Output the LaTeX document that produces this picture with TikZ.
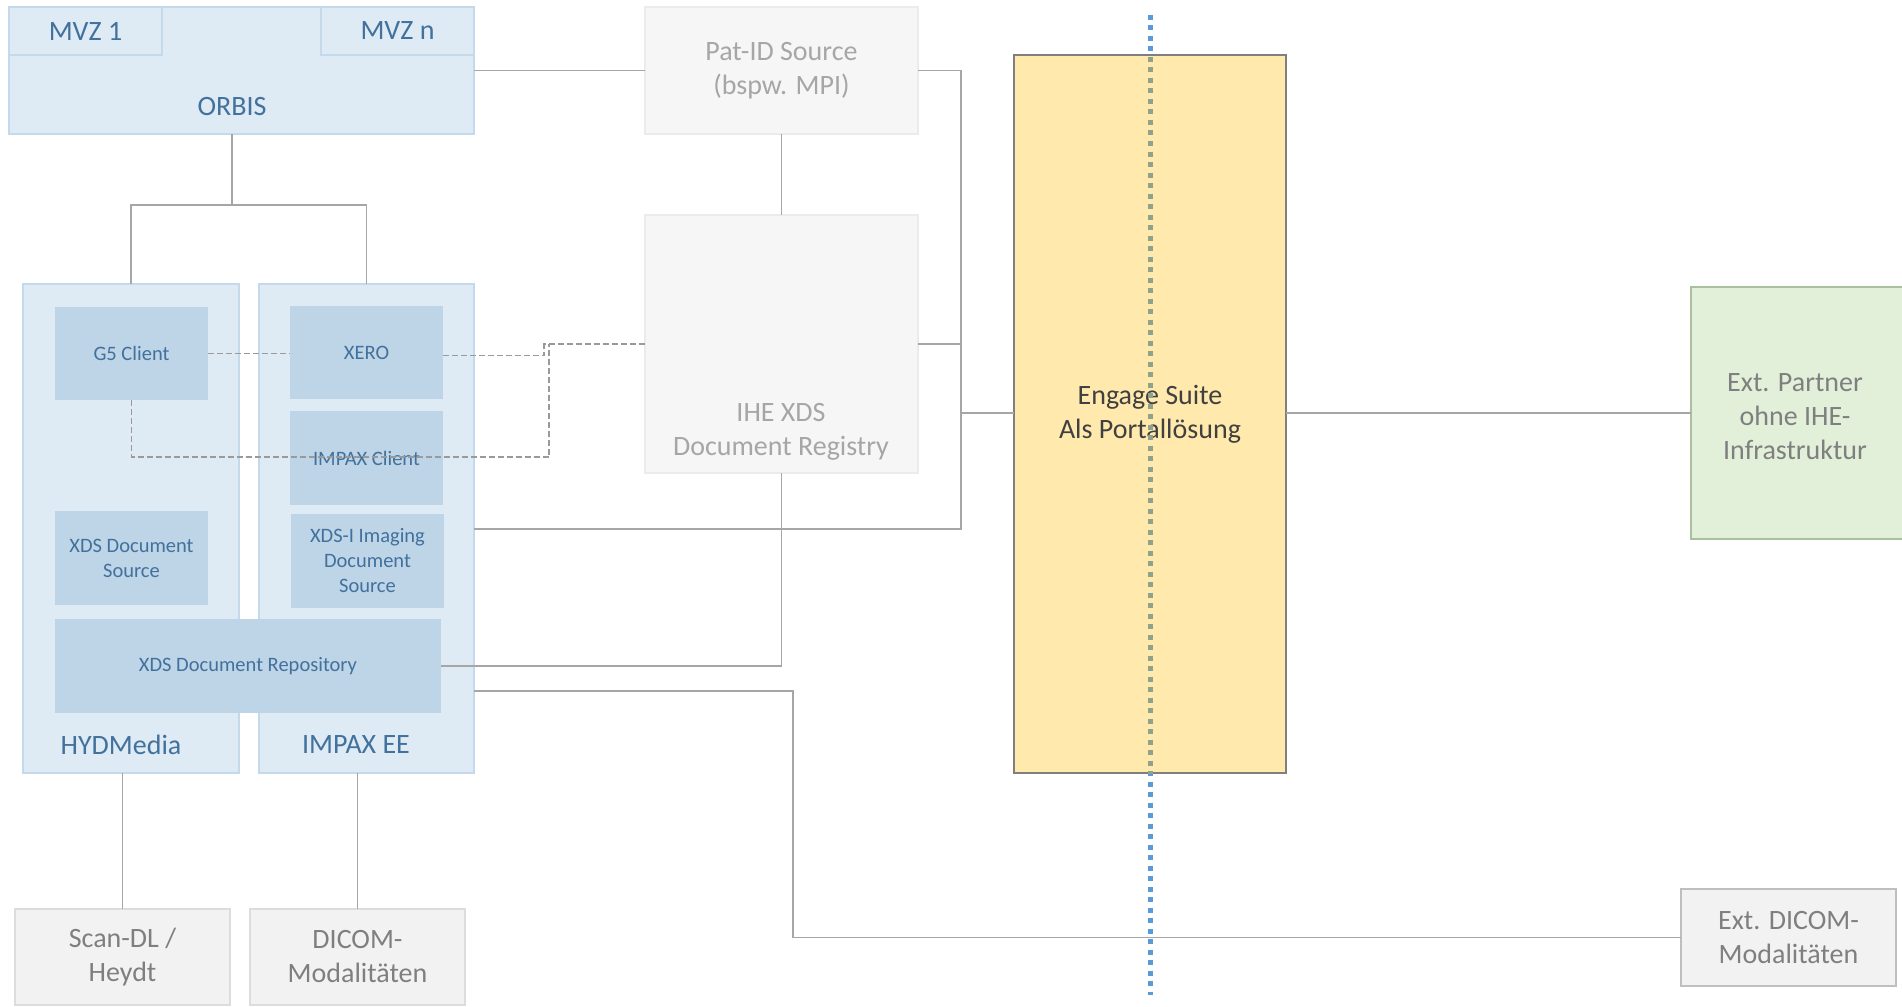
\documentclass[tikz,border=0pt]{standalone}
\usepackage{fontspec}
\setmainfont{Carlito}
\definecolor{cfill}{HTML}{DEEAF4}
\definecolor{cdraw}{HTML}{C5D9ED}
\definecolor{ifill}{HTML}{BED4E7}
\definecolor{btext}{HTML}{41719C}
\definecolor{gfill}{HTML}{F6F6F6}
\definecolor{gdraw}{HTML}{EBEBEB}
\definecolor{gtext}{HTML}{A6A6A6}
\definecolor{gbfill}{HTML}{F2F2F2}
\definecolor{gbdraw}{HTML}{DCDCDC}
\definecolor{gbtext}{HTML}{7F7F7F}
\definecolor{edraw}{HTML}{BFBFBF}
\definecolor{yfill}{HTML}{FFE9AD}
\definecolor{ydraw}{HTML}{7F7F7F}
\definecolor{ytext}{HTML}{404040}
\definecolor{grfill}{HTML}{E2EFD9}
\definecolor{grdraw}{HTML}{A9BFA0}
\definecolor{lgray}{HTML}{A6A6A6}
\definecolor{dgray}{HTML}{9A9A9A}
\definecolor{dotblue}{HTML}{5B9BD5}
\definecolor{dotmix}{HTML}{8FA38C}
\begin{document}
\begin{tikzpicture}[x=1pt,y=-1pt,
  anybox/.style={rectangle, anchor=north west, inner sep=0pt, outer sep=0pt, align=center},
  bigtxt/.style={font=\fontsize{28}{34}\selectfont},
  smalltxt/.style={font=\fontsize{20.5}{25}\selectfont},
  container/.style={anybox, fill=cfill, draw=cdraw, line width=1.5pt, text=btext, bigtxt},
  inner/.style={anybox, fill=ifill, text=btext, smalltxt},
  graybox/.style={anybox, fill=gfill, draw=gdraw, line width=1.5pt, text=gtext, bigtxt},
  graybox2/.style={anybox, fill=gbfill, draw=gbdraw, line width=1.5pt, text=gbtext, bigtxt},
  conn/.style={draw=lgray, line width=1.6pt},
  dconn/.style={draw=dgray, line width=1.8pt, dash pattern=on 6pt off 3pt},
  label/.style={inner sep=0pt, align=center}
]
\useasboundingbox (0,0) rectangle (1902,1006);
\fill[white] (0,0) rectangle (1902,1006);

% ORBIS with MVZ
\node[container, minimum width=465, minimum height=127] (orbis) at (9,7) {};
\node[container, minimum width=153, minimum height=48] (mvz1) at (9,7) {MVZ 1};
\node[container, minimum width=153, minimum height=48] (mvzn) at (321,7) {MVZ n};
\node[label, text=btext, bigtxt] (orbistxt) at (232,107) {ORBIS};

% HYDMedia and IMPAX EE containers
\node[container, minimum width=216, minimum height=489] (hyd) at (23,284) {};
\node[container, minimum width=215, minimum height=489] (impax) at (259,284) {};
\node[label, text=btext, bigtxt] (hydtxt) at (121,745) {HYDMedia};
\node[label, text=btext, bigtxt] (impaxtxt) at (356,745) {IMPAX EE};

% inner boxes
\node[inner, minimum width=153, minimum height=93] (g5) at (55,307) {G5 Client};
\node[inner, minimum width=153, minimum height=93] (xero) at (290,306) {XERO};
\node[inner, minimum width=153, minimum height=94] (impaxcl) at (290,411) {IMPAX Client};
\node[inner, minimum width=153, minimum height=94] (xdsi) at (291,514) {XDS-I Imaging\\Document\\Source};
\node[inner, minimum width=153, minimum height=94] (xdssrc) at (55,511) {XDS Document\\Source};
\node[inner, minimum width=386, minimum height=94] (repo) at (55,619) {XDS Document Repository};

% gray boxes
\node[graybox, minimum width=273, minimum height=127] (patid) at (645,7) {Pat-ID Source\\(bspw. MPI)};
\node[graybox, minimum width=273, minimum height=258] (registry) at (645,215) {};
\node[label, text=gtext, bigtxt] (regtxt) at (781,432) {IHE XDS\\Document Registry};

\node[graybox2, minimum width=215, minimum height=96] (scandl) at (15,909) {Scan-DL /\\Heydt};
\node[graybox2, minimum width=215, minimum height=96] (dicom) at (250,909) {DICOM-\\Modalitäten};
\node[graybox2, draw=edraw, minimum width=215, minimum height=97] (extdicom) at (1681,889) {Ext. DICOM-\\Modalitäten};

% Engage
\node[anybox, fill=yfill, draw=ydraw, line width=1.5pt, text=ytext, bigtxt, minimum width=272, minimum height=718] (engage) at (1014,55) {Engage Suite\\Als Portallösung};

% Ext partner
\node[anybox, fill=grfill, draw=grdraw, line width=1.5pt, minimum width=225, minimum height=252] (extp) at (1691,287) {};
\node[label, text=gbtext, bigtxt] (extptxt) at (1795,417) {Ext. Partner\\ohne IHE-\\Infrastruktur};

% junctions
\coordinate (ob) at (232,205);
\coordinate (j1) at (961,413);

% solid connectors
\draw[conn] (orbis.south -| ob) -- (ob);
\draw[conn] (ob) -| (hyd.north);
\draw[conn] (ob) -| (impax.north);
\draw[conn] (orbis.east) -- (patid.west);
\draw[conn] (patid.south) -- (registry.north);
\draw[conn] (patid.east) -| (j1) -- (engage.west |- j1);
\draw[conn] (registry.east) -- (registry.east -| j1);
\draw[conn] (impax.east |- 0,529) -| (j1);
\draw[conn] (repo.east) -| (registry.south);
\draw[conn] (impax.east |- 0,691) -- (793,691) |- (extdicom.west);
\draw[conn] (engage.east |- j1) -- (extp.west |- j1);
\draw[conn] (hyd.south -| scandl.north) -- (scandl.north);
\draw[conn] (impax.south -| dicom.north) -- (dicom.north);

% dashed connectors
\draw[dconn] (g5.east) -- (g5.east -| xero.west);
\draw[dconn] (xero.east) ++(0,3) -| (544,344) -- (registry.west);
\draw[dconn] (g5.south) |- (549,457) -- (549,344);

% dotted boundary
\draw[dotblue, line width=5pt, dash pattern=on 5pt off 5.5pt] (1150,15) -- (1150,995);
\begin{scope}
\clip (engage.north west) rectangle (engage.south east);
\draw[dotmix, line width=5pt, dash pattern=on 5pt off 5.5pt] (1150,15) -- (1150,995);
\end{scope}
\end{tikzpicture}
\end{document}
